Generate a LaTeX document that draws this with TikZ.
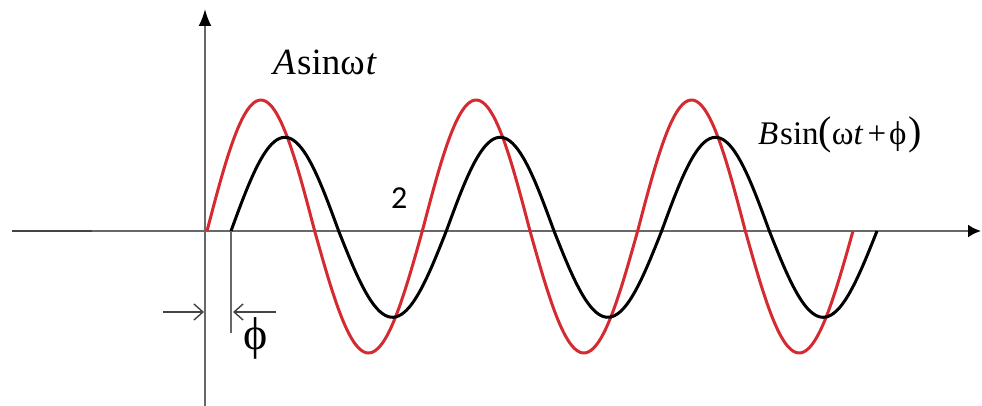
\documentclass[tikz,border=0pt]{standalone}
\usepackage{fontspec}
\setmainfont{Liberation Serif}
\newfontfamily\digitfont{Carlito}
\usetikzlibrary{arrows.meta}
\definecolor{wavered}{HTML}{D42A30}
\definecolor{axisgray}{HTML}{686868}
\definecolor{dimgray}{HTML}{444444}
\tikzset{
  axisline/.style={draw=axisgray, line width=2.2pt},
  redwave/.style={draw=wavered, line width=3pt, line join=round},
  blackwave/.style={draw=black, line width=3pt, line join=round},
  dimline/.style={draw=dimgray, line width=1.4pt, -{Straight Barb[length=9pt,width=16pt]}},
  marker/.style={draw=axisgray, line width=1.6pt},
  lbl/.style={inner sep=0pt, outer sep=0pt}
}
\newcommand{\bigparen}[1]{{\fontsize{40}{44}\selectfont #1}}
\begin{document}
\begin{tikzpicture}[x=1pt,y=-1pt]
\useasboundingbox (0,0) rectangle (982,406);
% axes
\coordinate (yb) at (205,406);
\coordinate (yt) at (205,9);
\coordinate (xl) at (12,231);
\coordinate (xm) at (92,231);
\coordinate (xr) at (981,231);
\draw[axisline, -{Latex[black,length=17pt,width=13pt]}] (yb) -- (yt);
\draw[axisline, -{Latex[black,length=13pt,width=13pt]}] (xl) -- (xr);
\draw[draw=dimgray, line width=2.6pt] (xl) -- (xm);
% waves
\draw[redwave] plot[domain=0:646, samples=240, smooth, variable=\t]
  ({207+\t}, {231 - 126.5*sin(\t/215.33*360) - 4.5*abs(sin(\t/215.33*360))});
\draw[blackwave] plot[domain=0:646, samples=240, smooth, variable=\t]
  ({231+\t}, {231 - 90*sin(\t/215.33*360) - 3.7*abs(sin(\t/215.33*360))});
% phase marker
\coordinate (mt) at (231,231);
\coordinate (mb) at (231,333);
\draw[marker] (mt) -- (mb);
\coordinate (la) at (163,312);
\coordinate (lb) at (204,312);
\coordinate (ra) at (276,312);
\coordinate (rb) at (233,312);
\draw[dimline] (la) -- (lb);
\draw[dimline] (ra) -- (rb);
% labels
\node[lbl, anchor=base west, font=\fontsize{37}{42}\selectfont] (la1) at (273,75) {\textit{A}\hspace{1.5pt}sinω\hspace{1pt}\textit{t}};
\node[lbl, anchor=base west, font=\fontsize{33}{40}\selectfont] (lb1) at (758,145) {\textit{B}\hspace{2pt}sin\bigparen{(}ω\textit{t}\hspace{4pt}+\hspace{3pt}ϕ\hspace{2pt}\bigparen{)}};
\node[lbl, anchor=base west, font=\digitfont\fontsize{32}{36}\selectfont] (l2) at (391,208) {2};
\node[lbl, anchor=center, font=\fontsize{46}{50}\selectfont] (lphi) at (256,338) {ϕ};
\end{tikzpicture}
\end{document}
